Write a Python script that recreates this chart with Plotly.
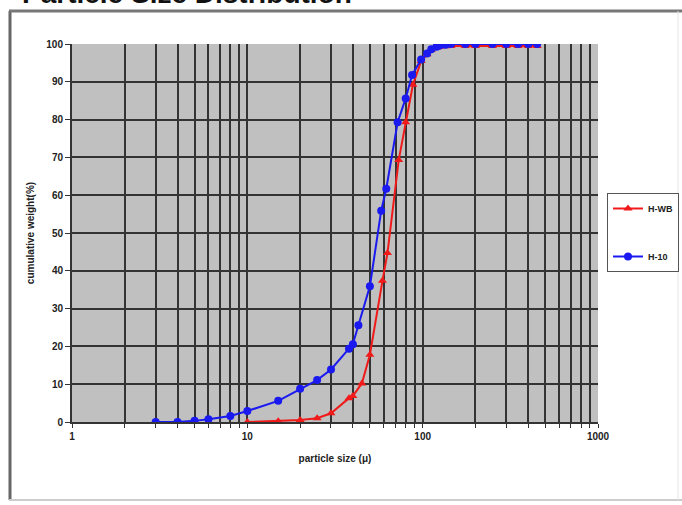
import plotly.graph_objects as go

# ---- data ----
h10_x = [3, 4, 5, 6, 8, 10, 15, 20, 25, 30, 38, 40, 43, 50, 58, 62, 72, 80, 87, 98,
         106, 112, 120, 125, 135, 145, 175, 200, 250, 300, 350, 400, 450]
h10_y = [0, 0, 0.3, 0.7, 1.6, 2.9, 5.6, 8.8, 11.1, 13.9, 19.4, 20.6, 25.6, 35.9, 55.9,
         61.7, 79.3, 85.6, 91.8, 95.9, 97.5, 98.6, 99.3, 99.6, 99.8, 100, 100, 100,
         100, 100, 100, 100, 100]

hwb_x = [10, 15, 20, 25, 30, 38, 40, 45, 50, 59, 63, 73, 80, 88, 98, 106, 112, 120,
         125, 135, 145, 175, 200, 250, 300, 350, 400, 450]
hwb_y = [0, 0.2, 0.5, 1.0, 2.3, 6.3, 6.9, 10.2, 17.8, 37.4, 44.7, 69.3, 79.3, 89.2,
         95.5, 97.3, 98.4, 99.0, 99.3, 99.4, 99.5, 99.5, 99.5, 99.5, 99.5, 99.5, 99.5, 99.5]

x_tick_vals = [m * 10 ** e for e in range(3) for m in range(1, 10)] + [1000]
x_tick_text = [str(v) if v in (1, 10, 100, 1000) else "" for v in x_tick_vals]
y_tick_vals = list(range(0, 101, 10))

title_text = "Particle Size Distribution"
x_title = "particle size (\u03bc)"
y_title = "cumulative weight(%)"

# ---- geometry (pixels) ----
W, H = 682, 505
L, R, T, B = 72, 84, 44, 83
pw, ph = W - L - R, H - T - B


def px(xp):
    return (xp - L) / pw


def py(yp):
    return (H - B - yp) / ph


fig = go.Figure()
fig.add_trace(go.Scatter(
    x=hwb_x, y=hwb_y, name="H-WB", mode="lines+markers", legendgroup="a",
    line=dict(color="#f01a1a", width=2),
    marker=dict(symbol="triangle-up", size=8, color="#f01a1a")))
fig.add_trace(go.Scatter(
    x=h10_x, y=h10_y, name="H-10", mode="lines+markers", legendgroup="b",
    line=dict(color="#1a1af0", width=2),
    marker=dict(symbol="circle", size=8, color="#1a1af0")))

tickfont = dict(family="Liberation Sans Narrow, Liberation Sans, Arial", size=10, color="#222", weight="bold")

fig.update_layout(
    width=W, height=H,
    margin=dict(l=L, r=R, t=T, b=B, autoexpand=False),
    paper_bgcolor="white", plot_bgcolor="#c0c0c0",
    showlegend=True,
    legend=dict(x=px(607), y=py(193), xanchor="left", yanchor="top",
                bgcolor="white", bordercolor="#555", borderwidth=1,
                font=dict(family="Liberation Sans Narrow, Liberation Sans", size=9, color="#222", weight="bold"),
                tracegroupgap=29, itemwidth=30),
    xaxis=dict(type="log", range=[0, 3], tickvals=x_tick_vals, ticktext=x_tick_text,
               showgrid=True, gridcolor="#333", gridwidth=2,
               ticks="outside", ticklen=4, tickcolor="#333",
               showline=True, linecolor="#333", linewidth=2,
               tickfont=tickfont, zeroline=False,
               title=dict(text=x_title, font=tickfont, standoff=14)),
    yaxis=dict(range=[0, 100], tickvals=y_tick_vals,
               showgrid=True, gridcolor="#333", gridwidth=2,
               ticks="outside", ticklen=5, tickcolor="#333",
               showline=True, linecolor="#333", linewidth=2,
               tickfont=tickfont, zeroline=False,
               title=dict(text=y_title, font=dict(family="Liberation Sans", size=10, color="#222", weight="bold"), standoff=10)),
    font=dict(family="Liberation Sans"),
)

# outer frame
fig.add_shape(type="line", xref="paper", yref="paper", x0=px(10), x1=px(10), y0=py(11), y1=py(500),
              line=dict(color="#666", width=3))
fig.add_shape(type="line", xref="paper", yref="paper", x0=px(9), x1=px(682), y0=py(11), y1=py(11),
              line=dict(color="#777", width=3))
fig.add_shape(type="line", xref="paper", yref="paper", x0=px(9), x1=px(682), y0=py(500), y1=py(500),
              line=dict(color="#ccc", width=2))
fig.add_shape(type="line", xref="paper", yref="paper", x0=px(678), x1=px(678), y0=py(11), y1=py(500),
              line=dict(color="#e4e4e4", width=1))

fig.add_annotation(text="<b>" + title_text + "</b>", xref="paper", yref="paper",
                   x=px(20), y=py(11.5), xanchor="left", yanchor="bottom", showarrow=False,
                   font=dict(family="Liberation Sans, Arial", size=28, color="#111"))

fig.write_html("out.html", config={"displayModeBar": False},
               post_script="document.body.style.margin='0';")
